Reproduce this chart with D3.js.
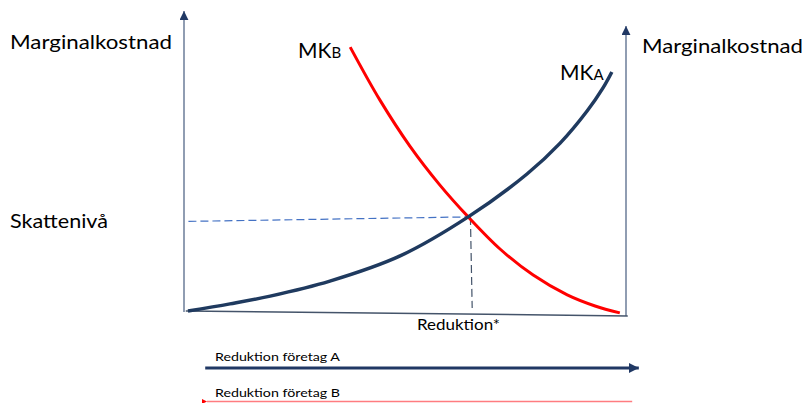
<!DOCTYPE html>
<html>
<head>
<meta charset="utf-8">
<script src="https://cdn.jsdelivr.net/npm/d3@7"></script>
<style>
  body { margin: 0; background: #fff; }
  text { font-family: Lato, "Open Sans", sans-serif; fill: #000; }
</style>
</head>
<body>
<script>
// curve points, x = reduktion (0-100), y = marginalkostnad (0-100)
var mkA = [
    [0.9, 0.3], [10.4, 2.7], [19.5, 5.3], [33, 10.3], [48.9, 18.7],
    [64.3, 31.7], [77.6, 46], [85.1, 56.3], [91.2, 67], [94.8, 74.7], [96.8, 80]
];
var mkB = [
    [37.6, 88.3], [44.3, 70.7], [51.1, 55.3], [57.9, 42.3], [64.3, 31.7],
    [71.5, 21], [79, 12.3], [86.7, 5.7], [93, 2], [98.6, -0.3]
];
var tax = 31.7,
    reductionStar = 64.8;
var labels = ['Marginalkostnad', 'Skattenivå', 'Reduktion*', 'Reduktion företag A', 'Reduktion företag B'];

var width = 805, height = 403;

var x = d3.scaleLinear().domain([0, 100]).range([184, 626]);
var y = d3.scaleLinear().domain([0, 100]).range([312, 12]);

var svg = d3.select('body').append('svg')
    .attr('width', width)
    .attr('height', height);

// arrow markers
var defs = svg.append('defs');
function marker(id, color, w, h, flip) {
    defs.append('marker')
        .attr('id', id)
        .attr('viewBox', '0 0 10 10')
        .attr('refX', flip ? 0 : 10).attr('refY', 5)
        .attr('markerUnits', 'userSpaceOnUse')
        .attr('markerWidth', w).attr('markerHeight', h)
        .attr('orient', 'auto')
        .append('path')
        .attr('d', flip ? 'M10,0 L0,5 L10,10 z' : 'M0,0 L10,5 L0,10 z')
        .attr('fill', color);
}
marker('axisArrow', '#203864', 9, 9, false);
marker('arrowA', '#203864', 10, 10, false);
marker('arrowB', '#ff0000', 6, 5, true);

// axes
svg.append('line')
    .attr('x1', x(0)).attr('y1', y(0))
    .attr('x2', x(0)).attr('y2', y(100.3))
    .attr('stroke', '#6b7d98').attr('stroke-width', 1.5)
    .attr('marker-end', 'url(#axisArrow)');
svg.append('line')
    .attr('x1', x(100)).attr('y1', y(-1.3))
    .attr('x2', x(100)).attr('y2', y(95.3))
    .attr('stroke', '#6b7d98').attr('stroke-width', 1.5)
    .attr('marker-end', 'url(#axisArrow)');
svg.append('line')
    .attr('x1', x(0.4)).attr('y1', y(0.3))
    .attr('x2', x(100.4)).attr('y2', y(-1.3))
    .attr('stroke', '#44546a').attr('stroke-width', 1.5);

// dashed guides
svg.append('line')
    .attr('x1', x(1)).attr('y1', y(30.2))
    .attr('x2', x(64.3)).attr('y2', y(tax))
    .attr('stroke', '#4472c4').attr('stroke-width', 1.2)
    .attr('stroke-dasharray', '8,4');
svg.append('line')
    .attr('x1', x(reductionStar)).attr('y1', y(tax))
    .attr('x2', x(reductionStar + 0.4)).attr('y2', y(1.3))
    .attr('stroke', '#44546a').attr('stroke-width', 1.2)
    .attr('stroke-dasharray', '8,4');

// curves
var line = d3.line()
    .x(function(d) { return x(d[0]); })
    .y(function(d) { return y(d[1]); })
    .curve(d3.curveCatmullRom);

svg.append('path').datum(mkB)
    .attr('d', line)
    .attr('fill', 'none').attr('stroke', '#ff0000').attr('stroke-width', 3);
svg.append('path').datum(mkA)
    .attr('d', line)
    .attr('fill', 'none').attr('stroke', '#1f3a5f').attr('stroke-width', 3.5);

// texts
svg.append('text').attr('x', 10).attr('y', 49)
    .attr('font-size', 20).attr('textLength', 162).attr('lengthAdjust', 'spacingAndGlyphs')
    .text(labels[0]);
svg.append('text').attr('x', 642).attr('y', 53)
    .attr('font-size', 20).attr('textLength', 161).attr('lengthAdjust', 'spacingAndGlyphs')
    .text(labels[0]);
svg.append('text').attr('x', 10).attr('y', 228)
    .attr('font-size', 19).attr('textLength', 98).attr('lengthAdjust', 'spacingAndGlyphs')
    .text(labels[1]);
svg.append('text').attr('x', 417).attr('y', 330)
    .attr('font-size', 16).attr('textLength', 83).attr('lengthAdjust', 'spacingAndGlyphs')
    .text(labels[2]);

var tB = svg.append('text').attr('x', 298).attr('y', 58).attr('font-size', 21);
tB.append('tspan').text('MK');
tB.append('tspan').attr('font-size', 15).text('B');
var tA = svg.append('text').attr('x', 560).attr('y', 80).attr('font-size', 21);
tA.append('tspan').text('MK');
tA.append('tspan').attr('font-size', 15).text('A');

// reduction arrows
svg.append('text').attr('x', 215).attr('y', 361)
    .attr('font-size', 12).attr('textLength', 125).attr('lengthAdjust', 'spacingAndGlyphs')
    .text(labels[3]);
svg.append('line')
    .attr('x1', x(4.8)).attr('y1', 368)
    .attr('x2', x(102.9)).attr('y2', 368)
    .attr('stroke', '#203864').attr('stroke-width', 3)
    .attr('marker-end', 'url(#arrowA)');

svg.append('text').attr('x', 215).attr('y', 397)
    .attr('font-size', 12).attr('textLength', 125).attr('lengthAdjust', 'spacingAndGlyphs')
    .text(labels[4]);
svg.append('line')
    .attr('x1', x(101.4)).attr('y1', 401.5)
    .attr('x2', x(5.2)).attr('y2', 401.5)
    .attr('stroke', '#ff7c80').attr('stroke-width', 1.5)
    .attr('marker-end', 'url(#arrowB)');
</script>
</body>
</html>
